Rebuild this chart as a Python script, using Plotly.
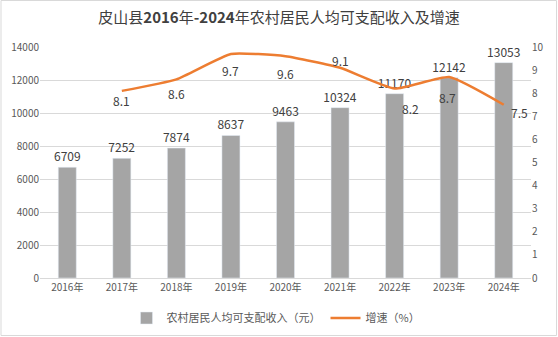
import plotly.graph_objects as go

# 皮山县农村居民人均可支配收入及增速
years = ["2016年", "2017年", "2018年", "2019年", "2020年", "2021年", "2022年", "2023年", "2024年"]
income = [6709, 7252, 7874, 8637, 9463, 10324, 11170, 12142, 13053]
growth_years = years[1:]
growth = [8.1, 8.6, 9.7, 9.6, 9.1, 8.2, 8.7, 7.5]
# label offsets (px) for growth values
growth_shift_x = [0, 0, 0, 0, 0, 16, -2, 16]
growth_shift_y = [-10, -14, -17, -17, 7, -20, -20, -8]

FONT = "Noto Sans CJK SC"
TXT = "#595959"
W, H = 558, 337
ML, MR, MT, MB = 40, 27, 47, 59
PW, PH = W - ML - MR, H - MT - MB

fig = go.Figure()
fig.add_trace(go.Bar(
    x=years, y=income, name="农村居民人均可支配收入（元）",
    marker_color="#A5A5A5",
    text=[str(v) for v in income], textposition="outside", constraintext="none",
    textfont=dict(size=12, color="#404040", family=FONT),
    cliponaxis=False,
))
fig.add_trace(go.Scatter(
    x=growth_years, y=growth, name="增速（%）", yaxis="y2",
    mode="lines", line=dict(color="#ED7D31", width=2.5, shape="spline", smoothing=0.45),
))

annotations = []
for yr, g, dx, dy in zip(growth_years, growth, growth_shift_x, growth_shift_y):
    annotations.append(dict(
        x=yr, y=g, xref="x", yref="y2", text=f"{g}", showarrow=False,
        xshift=dx, yshift=dy, font=dict(size=12, color="#404040", family=FONT),
    ))

# outer frame
shapes = [dict(
    type="rect", xref="paper", yref="paper",
    x0=(1 - ML) / PW, x1=(556.5 - ML) / PW,
    y0=(H - MB - 335.5) / PH, y1=(H - MB - 0.5) / PH,
    line=dict(color="#D9D9D9", width=1), fillcolor="rgba(0,0,0,0)", layer="below",
)]

fig.update_layout(
    width=W, height=H,
    margin=dict(l=ML, r=MR, t=MT, b=MB, autoexpand=False),
    paper_bgcolor="white", plot_bgcolor="white",
    font=dict(family=FONT, color=TXT, size=10),
    title=dict(
        text="皮山县<b>2016</b>年<b>-2024</b>年农村居民人均可支配收入及增速",
        x=0.5, xref="container", xanchor="center", y=1 - 18 / H, yanchor="middle",
        font=dict(size=15, color="#404040", family=FONT),
    ),
    bargap=0.67,
    showlegend=True,
    legend=dict(
        orientation="h", x=(276 - ML) / PW, xanchor="center", y=(H - MB - 318) / PH, yanchor="middle",
        font=dict(size=11, color=TXT, family=FONT), bgcolor="rgba(0,0,0,0)",
        itemwidth=30,
    ),
    xaxis=dict(
        showgrid=False, showline=True, linecolor="#D9D9D9", linewidth=1,
        ticks="", tickfont=dict(size=10, color=TXT),
    ),
    yaxis=dict(
        range=[0, 14000], dtick=2000, tickformat="d", showgrid=True, gridcolor="#D9D9D9", gridwidth=1,
        zeroline=False, showline=False, ticks="", tickfont=dict(size=10, color=TXT),
    ),
    yaxis2=dict(
        range=[0, 10], dtick=1, overlaying="y", side="right", showgrid=False,
        zeroline=False, showline=False, ticks="", tickfont=dict(size=10, color=TXT),
    ),
    annotations=annotations,
    shapes=shapes,
)

fig.write_html("out.html")
